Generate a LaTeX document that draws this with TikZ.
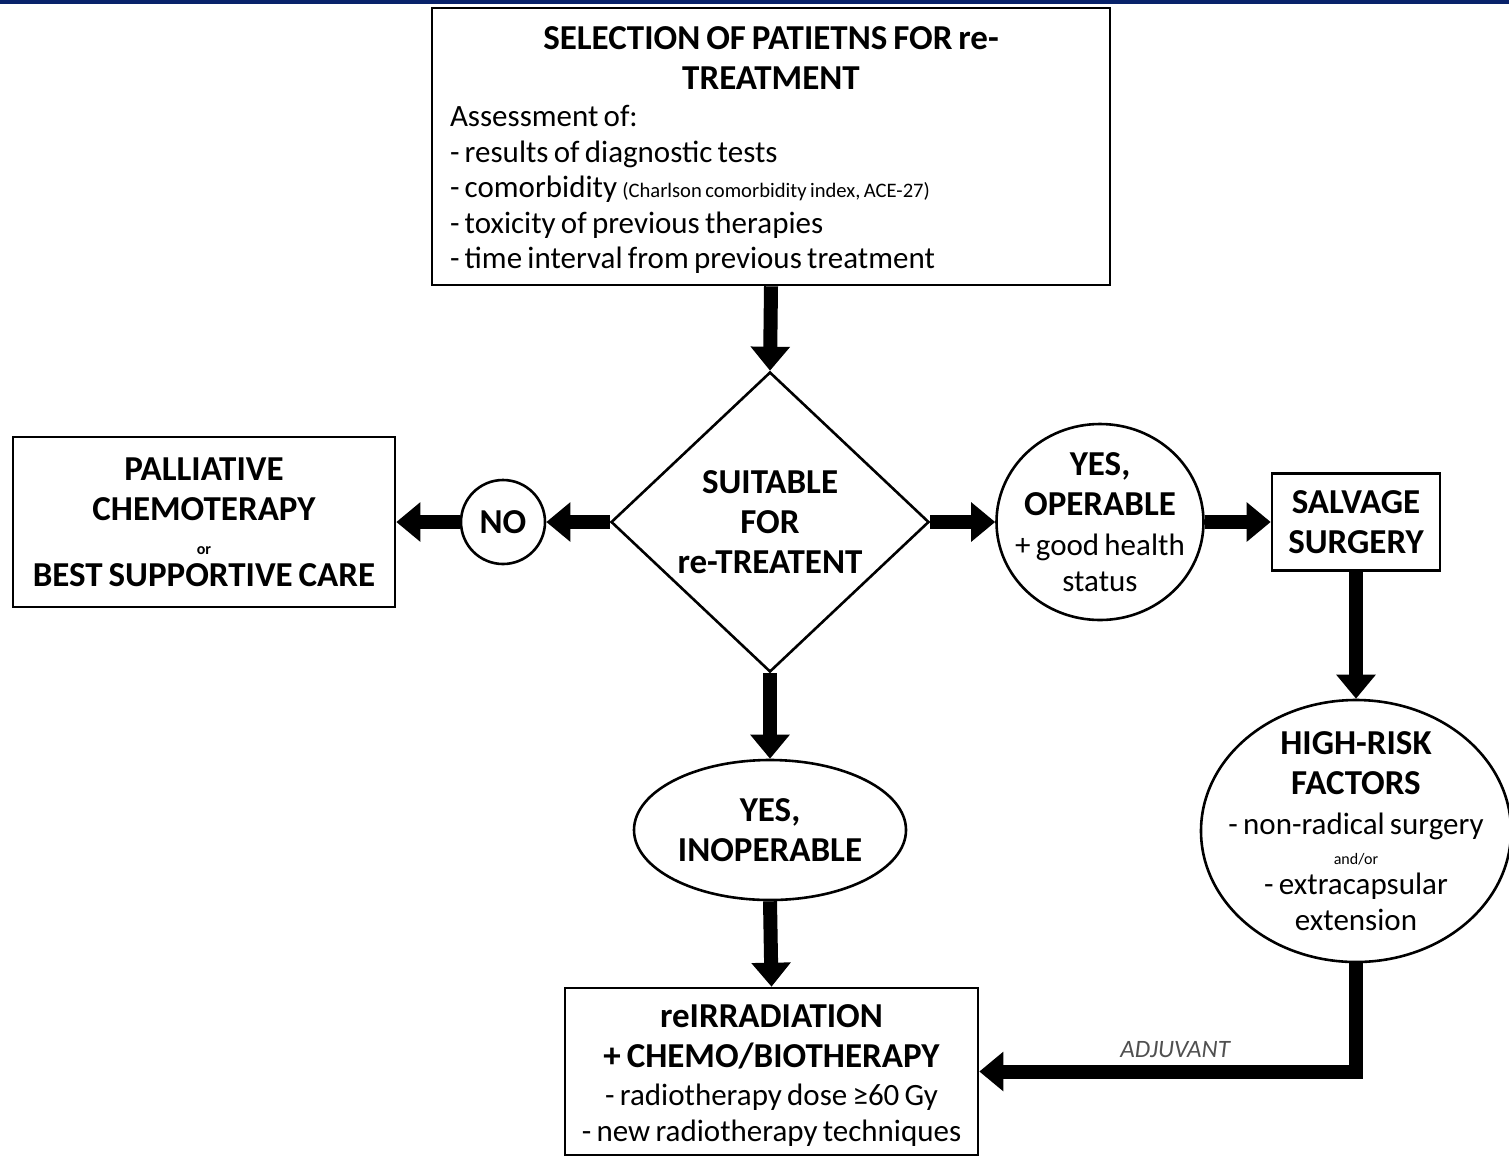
\documentclass[tikz,border=0pt]{standalone}
\usepackage{fontspec}
\setmainfont{Carlito}[WordSpace=0.75]
\usetikzlibrary{positioning, shapes.geometric, arrows.meta}
\definecolor{bandblue}{RGB}{8,34,106}
\definecolor{adjgray}{RGB}{80,80,80}
\newcommand{\lighttxt}[1]{{\mdseries\fontsize{15.5}{19}\selectfont #1}}

\begin{document}
\begin{tikzpicture}[x=0.5pt, y=-0.5pt,
    box/.style={draw, line width=1.3pt, rectangle, inner sep=0pt},
    ring/.style={draw, line width=1.3pt, ellipse, inner sep=0pt},
    txt/.style={align=center, font=\fontsize{17.5}{20}\selectfont\bfseries},
    fat/.style={line width=7pt, -{Triangle[length=12pt, width=19pt]}}]
\useasboundingbox (0,0) rectangle (1509,1158);
\fill[bandblue] (0,0) rectangle (1509,4);

% top box
\node[box, minimum width=339pt, minimum height=138.5pt] (select) at (771,146.5) {};
\node[text width=321pt, align=left, inner sep=0pt, font=\fontsize{15.5}{17.75}\selectfont]
    (select-t) at ([yshift=-1.8pt]select.center) {\spaceskip=0pt \xspaceskip=0pt
    {\centering\bfseries\fontsize{17.5}{20}\selectfont SELECTION OF PATIETNS FOR re-\\TREATMENT\par}
    \vspace{1pt}Assessment of:\\
    - results of diagnostic tests\\
    - comorbidity {\fontsize{10.3}{11}\selectfont (Charlson comorbidity index, ACE-27)}\\
    - toxicity of previous therapies\\
    - time interval from previous treatment
};

% decision
\node[draw, line width=1.3pt, diamond, minimum width=159pt, minimum height=150pt, inner sep=0pt] (suit) at (770,522) {};
\node[txt] (suit-t) at (suit) {SUITABLE\\FOR\\re-TREATENT};

% left branch
\node[draw, line width=1.3pt, circle, minimum size=42pt, inner sep=0pt] (no) at (503,522) {};
\node[txt] (no-t) at (no) {NO};
\node[box, minimum width=191pt, minimum height=85pt] (palliative) at (204,522) {};
\node[txt] (palliative-t) at (palliative) {PALLIATIVE\\CHEMOTERAPY\\[-3pt]{\fontsize{8}{9}\selectfont or}\\[-4pt]BEST SUPPORTIVE CARE};

% right branch
\node[ring, minimum width=103.5pt, minimum height=98pt] (oper) at (1100,522) {};
\node[txt] (oper-t) at (oper) {YES,\\OPERABLE\\\lighttxt{+ good health}\\[-2pt]\lighttxt{status}};
\node[box, minimum width=84pt, minimum height=48.5pt] (salvage) at (1356,522) {};
\node[txt] (salvage-t) at (salvage) {SALVAGE\\SURGERY};
\node[ring, minimum width=155pt, minimum height=131pt] (risk) at (1356,831) {};
\node[txt] (risk-t) at (risk) {HIGH-RISK\\FACTORS\\\lighttxt{- non-radical surgery}\\[-5pt]{\mdseries\fontsize{8}{9}\selectfont and/or}\\[-5pt]\lighttxt{- extracapsular}\\[-2pt]\lighttxt{extension}};

% lower branch
\node[ring, minimum width=136pt, minimum height=70pt] (inoper) at (770,830) {};
\node[txt] (inoper-t) at (inoper) {YES,\\INOPERABLE};
\node[box, minimum width=206.5pt, minimum height=83.5pt] (reirr) at (771.5,1071.5) {};
\node[txt] (reirr-t) at ([yshift=-2pt]reirr.center) {reIRRADIATION\\+ CHEMO/BIOTHERAPY\\[-1pt]\lighttxt{- radiotherapy dose ≥60 Gy}\\[-2pt]\lighttxt{- new radiotherapy techniques}};

% arrows
\draw[fat] (select.south) -- (suit.north);
\draw[fat] (suit.west) -- (no.east);
\draw[fat] (no.west) -- (palliative.east);
\draw[fat] (suit.east) -- (oper.west);
\draw[fat] (oper.east) -- (salvage.west);
\draw[fat] (salvage.south) -- (risk.north);
\draw[fat] (suit.south) -- (inoper.north);
\draw[fat] (inoper.south) -- (reirr.north);
\draw[fat] (risk.south) |- node[pos=0.74, above=0pt, font=\fontsize{12.5}{13}\selectfont\itshape, text=adjgray] (adj) {ADJUVANT} (reirr.east);
\end{tikzpicture}
\end{document}
